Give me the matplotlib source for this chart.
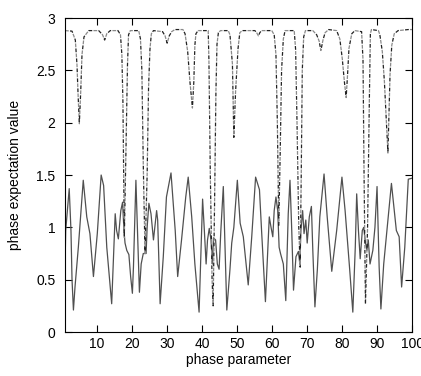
"""
phase expectation value vs phase parameter
two curves: solid (oscillating) and dashed (near 2.9 with dips)
"""

import matplotlib
matplotlib.use("Agg")
import matplotlib.pyplot as plt

# solid curve vertices
solid_x = [1.0, 1.2, 2.2, 2.7, 3.0, 3.4, 3.85, 4.8, 6.2, 7.2, 8.1, 9.1, 10.2, 11.3, 12.0,
           12.9, 14.3, 15.3, 15.7, 16.2, 16.9, 17.4, 17.8, 18.1, 18.6, 19.2, 19.7, 20.2,
           20.5, 21.2, 21.7, 22.2, 22.7, 23.3, 24.1, 24.4, 24.9, 25.5, 26.2, 27.1, 27.4,
           28.1, 29.0, 29.9, 31.2, 32.4, 33.1, 34.2, 35.4, 36.1, 37.1, 38.0, 39.2, 39.9,
           40.2, 40.7, 41.2, 41.6, 42.1, 42.6, 43.0, 43.3, 43.9, 44.4, 44.9, 45.4, 46.1,
           46.6, 47.1, 48.0, 48.5, 49.1, 50.1, 50.9, 51.8, 53.2, 54.2, 55.3, 56.4, 57.0,
           58.1, 59.2, 59.7, 60.2, 60.6, 61.1, 61.6, 62.0, 62.4, 63.2, 63.9, 64.6, 65.1,
           65.6, 66.1, 66.8, 67.5, 67.9, 68.2, 68.7, 69.1, 69.6, 70.0, 70.6, 71.2, 71.6,
           72.2, 72.9, 73.6, 74.8, 75.7, 77.0, 78.4, 79.9, 80.8, 82.1, 83.0, 83.7, 84.1,
           84.6, 85.1, 85.7, 86.1, 86.5, 87.0, 87.4, 87.9, 88.7, 89.3, 89.9, 90.5, 91.0,
           91.8, 93.1, 94.0, 94.7, 95.4, 96.2, 96.9, 97.8, 98.8, 99.9]
solid_y = [0.62, 0.97, 1.37, 0.97, 0.50, 0.21, 0.43, 0.81, 1.45, 1.10, 0.94, 0.53, 0.94, 1.50,
           1.40, 0.81, 0.27, 1.13, 0.97, 0.89, 1.16, 1.24, 0.97, 0.85, 0.78, 0.74, 0.53,
           0.37, 0.62, 1.45, 0.90, 0.38, 0.65, 0.75, 0.75, 1.00, 1.23, 1.13, 0.88, 1.16,
           1.07, 0.27, 0.72, 1.29, 1.52, 0.97, 0.53, 0.88, 1.29, 1.48, 1.10, 0.65, 0.19,
           0.97, 1.27, 0.97, 0.65, 0.88, 0.99, 0.88, 0.65, 0.90, 0.88, 0.65, 0.60, 0.97,
           1.39, 0.81, 0.21, 0.60, 0.85, 1.00, 1.45, 1.04, 0.91, 0.45, 0.91, 1.48, 1.36,
           0.97, 0.29, 1.10, 1.00, 0.91, 1.16, 1.29, 1.16, 0.81, 0.75, 0.65, 0.30, 1.13,
           1.45, 0.97, 0.40, 0.72, 0.77, 0.65, 0.97, 1.16, 0.94, 1.07, 0.85, 1.10, 1.20,
           0.78, 0.24, 0.60, 1.10, 1.51, 1.10, 0.58, 0.97, 1.48, 1.16, 0.60, 0.19, 0.81,
           1.32, 0.97, 0.70, 0.97, 1.00, 0.88, 0.78, 0.88, 0.65, 0.78, 1.00, 1.39, 0.62,
           0.22, 0.65, 1.10, 1.42, 1.20, 0.97, 0.91, 0.43, 0.81, 1.46, 1.47]

# dashed curve vertices
dashed_x = [1.0, 3.0, 3.94, 4.42, 4.70, 5.08, 5.47, 5.84, 6.41, 7.75, 10.6, 11.7, 12.3, 12.9,
            13.9, 16.1, 16.8, 17.2, 17.5, 17.9, 18.4, 18.8, 19.1, 19.6, 22.0, 22.5, 22.9,
            23.3, 23.8, 24.4, 24.8, 25.2, 25.6, 26.2, 28.8, 29.5, 30.1, 30.7, 31.4, 32.3,
            34.6, 35.2, 35.95, 36.6, 37.3, 37.7, 38.0, 38.3, 38.9, 41.8, 42.0, 42.4, 42.9,
            43.2, 43.6, 44.0, 44.3, 44.7, 45.3, 47.5, 48.0, 48.7, 49.1, 49.6, 50.3, 50.8,
            51.5, 55.1, 55.6, 56.1, 56.5, 57.0, 59.9, 60.6, 61.1, 61.5, 61.9, 62.3, 62.7,
            63.2, 63.7, 66.3, 66.7, 67.1, 67.6, 68.0, 68.3, 68.6, 69.0, 69.5, 71.6, 72.7,
            73.4, 73.9, 74.5, 75.1, 76.1, 78.4, 79.3, 80.0, 80.6, 81.1, 81.5, 81.9, 82.7,
            83.6, 85.5, 85.9, 86.2, 86.6, 87.2, 87.7, 88.0, 88.3, 90.3, 90.7, 91.4, 92.0,
            93.0, 93.6, 94.1, 94.8, 95.9, 98.8, 100.0]
dashed_y = [2.88, 2.875, 2.79, 2.55, 2.29, 1.99, 2.29, 2.65, 2.82, 2.88, 2.88, 2.84, 2.79, 2.85,
            2.88, 2.88, 2.84, 2.65, 2.20, 0.90, 1.80, 2.55, 2.84, 2.88, 2.88, 2.80, 2.50,
            1.60, 0.75, 1.50, 2.33, 2.70, 2.85, 2.88, 2.87, 2.83, 2.76, 2.83, 2.87, 2.89,
            2.89, 2.85, 2.68, 2.39, 2.14, 2.39, 2.74, 2.85, 2.88, 2.88, 2.60, 1.50, 0.50,
            0.25, 1.20, 2.30, 2.75, 2.86, 2.88, 2.88, 2.84, 2.56, 1.86, 2.30, 2.71, 2.86,
            2.88, 2.88, 2.86, 2.83, 2.86, 2.88, 2.88, 2.84, 2.65, 2.00, 1.02, 1.70, 2.50,
            2.80, 2.88, 2.88, 2.70, 2.00, 1.00, 0.62, 1.50, 2.50, 2.82, 2.88, 2.88, 2.84,
            2.78, 2.69, 2.79, 2.86, 2.89, 2.88, 2.80, 2.61, 2.39, 2.24, 2.46, 2.71, 2.85,
            2.88, 2.87, 2.60, 1.50, 0.27, 1.00, 2.20, 2.85, 2.89, 2.88, 2.84, 2.68, 2.39,
            1.71, 2.46, 2.74, 2.85, 2.88, 2.89, 2.89]

x_ticks = [10, 20, 30, 40, 50, 60, 70, 80, 90, 100]
y_ticks = [0, 0.5, 1, 1.5, 2, 2.5, 3]
y_ticklabels = ['0', '0.5', '1', '1.5', '2', '2.5', '3']

plt.rcParams['font.family'] = ['Liberation Sans', 'DejaVu Sans']

fig = plt.figure(figsize=(4.21, 3.76), dpi=100)
ax = fig.add_axes([0.1544, 0.117, 0.8254, 0.835])

ax.plot(solid_x, solid_y, color='#505050', lw=0.9)
# gnuplot 风格虚线：灰/黑交替
ax.plot(dashed_x, dashed_y, color='#8a8a8a', lw=0.9, linestyle=(0, (3, 5)))
ax.plot(dashed_x, dashed_y, color='#222222', lw=0.9, linestyle=(4, (3, 5)))

ax.set_xlim(1, 100)
ax.set_ylim(0, 3)
ax.set_xticks(x_ticks)
ax.set_yticks(y_ticks)
ax.set_yticklabels(y_ticklabels)
ax.tick_params(direction='in', top=True, right=True, length=5, width=0.8, labelsize=10)
ax.tick_params(axis='y', pad=7)
ax.tick_params(axis='x', pad=3.5)
for s in ax.spines.values():
    s.set_linewidth(0.8)

ax.set_xlabel('phase parameter', fontsize=10, labelpad=1.5)
ax.set_ylabel('phase expectation value', fontsize=10, labelpad=10)

plt.savefig('out.png', dpi=100)
plt.close()
